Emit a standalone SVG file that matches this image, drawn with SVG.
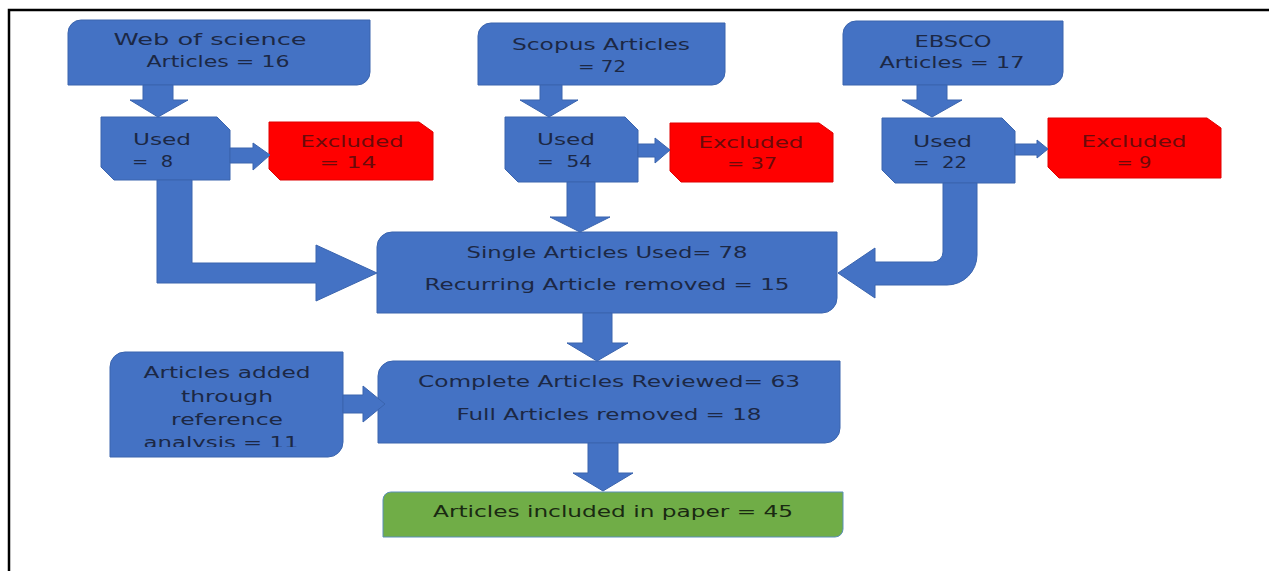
<svg xmlns="http://www.w3.org/2000/svg" width="1269" height="571" viewBox="0 0 1269 571">
<style>
  .blue{fill:#4472C4;stroke:#3A64AE;stroke-width:1}
  .red{fill:#FF0000;stroke:#E00000;stroke-width:1}
  .green{fill:#70AD47;stroke:#5B8FB9;stroke-width:1}
  .arrow{fill:#4472C4;stroke:#3A64AE;stroke-width:1}
  text{font-family:"DejaVu Sans","Open Sans",sans-serif;font-size:16px;white-space:pre}
  .tb{fill:#1C2845}
  .tr{fill:#6B0A0A}
  .tg{fill:#1A2A12}
  .frame{stroke:#000;stroke-width:2.5;fill:none}
</style>
<defs>
  <clipPath id="clipAdded"><rect x="110" y="352" width="233" height="95"/></clipPath>
</defs>
<path class="frame" d="M9,571 V10 H1269"/>

<g id="wos">
  <path class="blue" d="M81,20 H370 V72 A13,13 0 0 1 357,85 H68 V33 A13,13 0 0 1 81,20 Z"/>
  <text class="tb" x="210" y="45" text-anchor="middle" textLength="193" lengthAdjust="spacingAndGlyphs">Web of science</text>
  <text class="tb" x="218" y="67" text-anchor="middle" textLength="143" lengthAdjust="spacingAndGlyphs">Articles = 16</text>
</g>
<g id="wos-used">
  <path class="blue" d="M101,117 H217 L230,130 V180 H114 L101,167 Z"/>
  <text class="tb" x="133" y="145" textLength="58" lengthAdjust="spacingAndGlyphs">Used</text>
  <text class="tb" x="132" y="167" textLength="41" lengthAdjust="spacingAndGlyphs">=  8</text>
</g>
<g id="wos-excluded">
  <path class="red" d="M269,122 H419 L433,132 V180 H280 L269,169 Z"/>
  <text class="tr" x="352" y="147" text-anchor="middle" textLength="103" lengthAdjust="spacingAndGlyphs">Excluded</text>
  <text class="tr" x="348" y="168" text-anchor="middle" textLength="57" lengthAdjust="spacingAndGlyphs">= 14</text>
</g>

<g id="scopus">
  <path class="blue" d="M491,23 H725 V72 A13,13 0 0 1 712,85 H478 V36 A13,13 0 0 1 491,23 Z"/>
  <text class="tb" x="601" y="50" text-anchor="middle" textLength="178" lengthAdjust="spacingAndGlyphs">Scopus Articles</text>
  <text class="tb" x="602" y="72" text-anchor="middle" textLength="48" lengthAdjust="spacingAndGlyphs">= 72</text>
</g>
<g id="scopus-used">
  <path class="blue" d="M505,117 H625 L638,130 V182 H518 L505,169 Z"/>
  <text class="tb" x="537" y="145" textLength="58" lengthAdjust="spacingAndGlyphs">Used</text>
  <text class="tb" x="537" y="167" textLength="55" lengthAdjust="spacingAndGlyphs">=  54</text>
</g>
<g id="scopus-excluded">
  <path class="red" d="M670,123 H819 L833,133 V182 H681 L670,171 Z"/>
  <text class="tr" x="751" y="148" text-anchor="middle" textLength="105" lengthAdjust="spacingAndGlyphs">Excluded</text>
  <text class="tr" x="752" y="169" text-anchor="middle" textLength="50" lengthAdjust="spacingAndGlyphs">= 37</text>
</g>

<g id="ebsco">
  <path class="blue" d="M856,21 H1063 V72 A13,13 0 0 1 1050,85 H843 V34 A13,13 0 0 1 856,21 Z"/>
  <text class="tb" x="953" y="47" text-anchor="middle" textLength="77" lengthAdjust="spacingAndGlyphs">EBSCO</text>
  <text class="tb" x="952" y="68" text-anchor="middle" textLength="145" lengthAdjust="spacingAndGlyphs">Articles = 17</text>
</g>
<g id="ebsco-used">
  <path class="blue" d="M882,118 H1002 L1015,131 V183 H895 L882,170 Z"/>
  <text class="tb" x="913" y="147" textLength="59" lengthAdjust="spacingAndGlyphs">Used</text>
  <text class="tb" x="913" y="168" textLength="54" lengthAdjust="spacingAndGlyphs">=  22</text>
</g>
<g id="ebsco-excluded">
  <path class="red" d="M1048,118 H1207 L1221,128 V178 H1059 L1048,167 Z"/>
  <text class="tr" x="1134" y="147" text-anchor="middle" textLength="105" lengthAdjust="spacingAndGlyphs">Excluded</text>
  <text class="tr" x="1134" y="168" text-anchor="middle" textLength="35" lengthAdjust="spacingAndGlyphs">= 9</text>
</g>

<g id="single">
  <path class="blue" d="M392,232 H837 V298 A15,15 0 0 1 822,313 H377 V247 A15,15 0 0 1 392,232 Z"/>
  <text class="tb" x="607" y="258" text-anchor="middle" textLength="281" lengthAdjust="spacingAndGlyphs">Single Articles Used= 78</text>
  <text class="tb" x="607" y="290" text-anchor="middle" textLength="365" lengthAdjust="spacingAndGlyphs">Recurring Article removed = 15</text>
</g>

<g id="added">
  <path class="blue" d="M125,352 H343 V442 A15,15 0 0 1 328,457 H110 V367 A15,15 0 0 1 125,352 Z"/>
  <g clip-path="url(#clipAdded)">
    <text class="tb" x="227" y="378" text-anchor="middle" textLength="167" lengthAdjust="spacingAndGlyphs">Articles added</text>
    <text class="tb" x="227" y="402" text-anchor="middle" textLength="92" lengthAdjust="spacingAndGlyphs">through</text>
    <text class="tb" x="227" y="425" text-anchor="middle" textLength="112" lengthAdjust="spacingAndGlyphs">reference</text>
    <text class="tb" x="221" y="448" text-anchor="middle" textLength="155" lengthAdjust="spacingAndGlyphs">analysis = 11</text>
  </g>
</g>

<g id="complete">
  <path class="blue" d="M393,361 H840 V428 A15,15 0 0 1 825,443 H378 V376 A15,15 0 0 1 393,361 Z"/>
  <text class="tb" x="609" y="387" text-anchor="middle" textLength="382" lengthAdjust="spacingAndGlyphs">Complete Articles Reviewed= 63</text>
  <text class="tb" x="609" y="420" text-anchor="middle" textLength="305" lengthAdjust="spacingAndGlyphs">Full Articles removed = 18</text>
</g>

<g id="included">
  <path class="green" d="M391,492 H843 V529 A8,8 0 0 1 835,537 H383 V500 A8,8 0 0 1 391,492 Z"/>
  <text class="tg" x="613" y="517" text-anchor="middle" textLength="360" lengthAdjust="spacingAndGlyphs">Articles included in paper = 45</text>
</g>

<g id="connectors">
  <path class="arrow" d="M143,85 H173 V100 H188 L158,117 L130,100 H143 Z"/>
  <path class="arrow" d="M540,85 H562 V100 H578 L549,117 L520,100 H540 Z"/>
  <path class="arrow" d="M917,85 H947 V100 H962 L932,117 L902,100 H917 Z"/>
  <path class="arrow" d="M230,148 H253 V143 L270,155 L253,170 V163 H230 Z"/>
  <path class="arrow" d="M638,144 H655 V138 L670,150 L655,163 V157 H638 Z"/>
  <path class="arrow" d="M1015,144 H1037 V140 L1048,149 L1037,158 V155 H1015 Z"/>
  <path class="arrow" d="M157,180 H192 V263 H316 V245 L377,273 L316,301 V283 H157 Z"/>
  <path class="arrow" d="M567,182 H595 V217 H610 L580,232 L550,217 H567 Z"/>
  <path class="arrow" d="M943,183 H977 V255 A30,30 0 0 1 947,285 H875 V298 L838,273 L875,248 V262 H933 A10,10 0 0 0 943,252 Z"/>
  <path class="arrow" d="M583,313 H612 V343 H628 L597,361 L567,343 H583 Z"/>
  <path class="arrow" d="M343,395 H363 V386 L385,404 L363,422 V413 H343 Z"/>
  <path class="arrow" d="M588,443 H618 V473 H633 L603,491 L573,473 H588 Z"/>
</g>
</svg>
